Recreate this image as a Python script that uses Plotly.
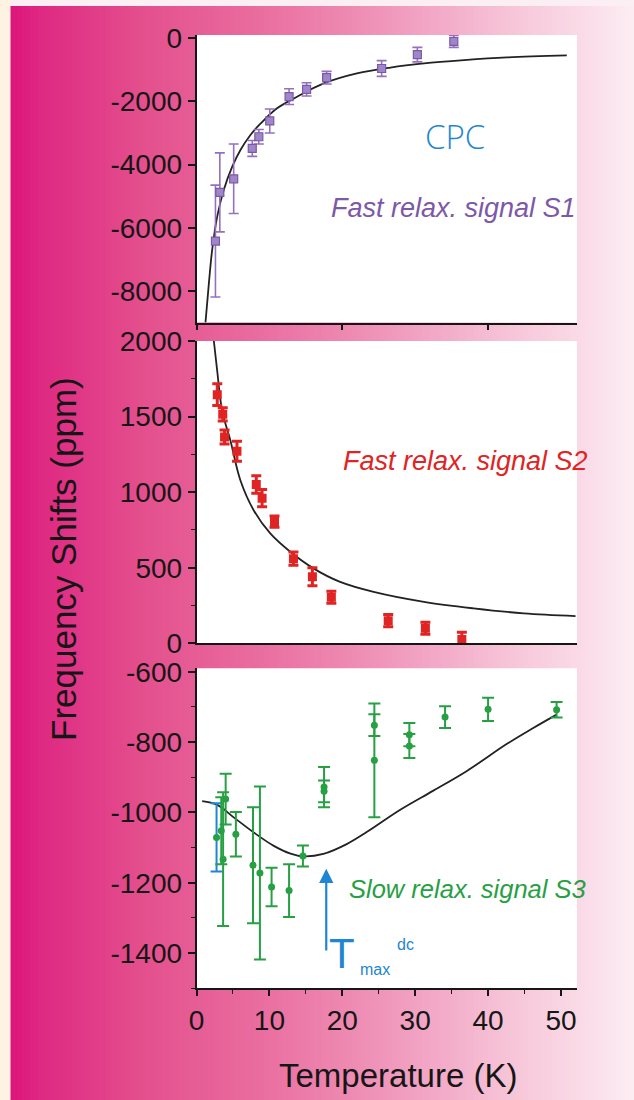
import plotly.graph_objects as go

# ---------------- data ----------------
# Panel 1: fast relaxation signal S1 (purple)
t_s1 = [2.6, 3.2, 5.1, 7.65, 8.55, 10.05, 12.7, 15.1, 17.85, 25.4, 30.3, 35.3]
v_s1 = [-6420, -4880, -4450, -3490, -3120, -2620, -1850, -1620, -1250, -960, -520, -100]
e_s1 = [1770, 1250, 1100, 250, 230, 380, 250, 210, 200, 250, 230, 190]
fit_t_s1 = [1.23, 1.7, 2.15, 2.84, 3.75, 4.9, 6.03, 7.4, 8.8, 11.05, 13.8, 17.45, 22.0, 26.6, 31.2, 36.7, 42.6, 50.8]
fit_v_s1 = [-9000, -7750, -6700, -5645, -4800, -4066, -3540, -3065, -2700, -2220, -1854, -1433, -1117, -930, -800, -695, -610, -547]

# Panel 2: fast relaxation signal S2 (red)
t_s2 = [2.85, 3.6, 3.85, 5.55, 8.2, 9.0, 10.7, 13.3, 15.9, 18.5, 26.3, 31.4, 36.4]
v_s2 = [1645, 1515, 1365, 1270, 1050, 960, 805, 560, 440, 305, 150, 100, 25]
e_s2 = [72, 44, 46, 66, 58, 57, 38, 44, 60, 40, 40, 40, 48]
fit_t_s2 = [2.38, 2.84, 3.52, 4.66, 6.03, 7.86, 10.15, 12.9, 16.1, 19.7, 24.3, 31.2, 38.0, 44.9, 52.0]
fit_v_s2 = [2000, 1802, 1538, 1340, 1077, 879, 725, 604, 494, 406, 340, 274, 231, 198, 180]

# Panel 3: slow relaxation signal S3 (green)
t_s3 = [3.4, 3.65, 4.0, 5.4, 7.75, 8.7, 10.3, 12.7, 14.6, 17.5, 17.5, 24.4, 24.4, 29.2, 29.2, 34.1, 40.0, 49.4]
v_s3 = [-1052, -1133, -962, -1062, -1150, -1172, -1212, -1222, -1124, -928, -940, -752, -852, -779, -811, -729, -707, -708]
e_s3 = [95, 190, 72, 63, 165, 246, 55, 75, 30, 57, 31, 31, 162, 33, 34, 31, 33, 22]
# point whose error bar is drawn in blue
t_s3_blue = [2.75]
v_s3_blue = [-1071]
e_s3_blue = [97]
fit_t_s3 = [0.78, 2.8, 5.1, 7.85, 10.6, 12.9, 14.7, 17.4, 20.6, 23.4, 27.9, 32.5, 37.1, 42.6, 46.2, 49.4]
fit_v_s3 = [-968, -978, -1014, -1057, -1095, -1117, -1125, -1118, -1090, -1055, -993, -938, -882, -805, -760, -722]

# T_max^dc arrow (temperature, tail value, head value)
tmax_t = 17.8
tmax_tail = -1397
tmax_head = -1160

# tick labels
y1_ticks = [0, -2000, -4000, -6000, -8000]
y1_text = ["0", "-2000", "-4000", "-6000", "-8000"]
y2_ticks = [0, 500, 1000, 1500, 2000]
y2_text = ["0", "500", "1000", "1500", "2000"]
y3_ticks = [-600, -800, -1000, -1200, -1400]
y3_text = ["-600", "-800", "-1000", "-1200", "-1400"]
x_ticks = [0, 10, 20, 30, 40, 50]
x_text = ["0", "10", "20", "30", "40", "50"]

# ---------------- layout geometry ----------------
W, H = 634, 1100


def px(x):
    return x / W


def py(y):
    return 1 - y / H


XDOM = [px(196.5), px(577)]
Y1DOM = [py(322.6), py(35)]
Y2DOM = [py(643.3), py(341)]
Y3DOM = [py(988.3), py(668.2)]

RED = "#E02424"
GREEN = "#27A043"
BLUE = "#1E86D2"
PURPLE_TXT = "#7D58A8"
INK = "#161616"
FONT = "Liberation Sans, Arial, sans-serif"
TICKFONT = dict(family=FONT, size=28, color=INK)

fig = go.Figure()

# Panel 1
fig.add_trace(go.Scatter(x=fit_t_s1, y=fit_v_s1, mode="lines", line=dict(color="#222", width=1.8, shape="spline"),
                         xaxis="x", yaxis="y", showlegend=False, hoverinfo="skip"))
fig.add_trace(go.Scatter(x=t_s1, y=v_s1, mode="markers",
                         marker=dict(symbol="square", size=8, color="#9F86C8", line=dict(color="#7A5AA5", width=1.2)),
                         error_y=dict(type="data", array=e_s1, color="#9570C0", thickness=1.6, width=5),
                         xaxis="x", yaxis="y", showlegend=False))

# Panel 2
fig.add_trace(go.Scatter(x=fit_t_s2, y=fit_v_s2, mode="lines", line=dict(color="#222", width=1.8, shape="spline"),
                         xaxis="x2", yaxis="y2", showlegend=False, hoverinfo="skip"))
fig.add_trace(go.Scatter(x=t_s2, y=v_s2, mode="markers",
                         marker=dict(symbol="square", size=9, color=RED),
                         error_y=dict(type="data", array=e_s2, color=RED, thickness=3, width=5),
                         xaxis="x2", yaxis="y2", showlegend=False))

# Panel 3
fig.add_trace(go.Scatter(x=fit_t_s3, y=fit_v_s3, mode="lines", line=dict(color="#222", width=1.8, shape="spline"),
                         xaxis="x3", yaxis="y3", showlegend=False, hoverinfo="skip"))
fig.add_trace(go.Scatter(x=t_s3_blue, y=v_s3_blue, mode="markers",
                         marker=dict(symbol="circle", size=7, color=GREEN),
                         error_y=dict(type="data", array=e_s3_blue, color=BLUE, thickness=2, width=6),
                         xaxis="x3", yaxis="y3", showlegend=False))
fig.add_trace(go.Scatter(x=t_s3, y=v_s3, mode="markers",
                         marker=dict(symbol="circle", size=7, color=GREEN),
                         error_y=dict(type="data", array=e_s3, color=GREEN, thickness=2, width=6),
                         xaxis="x3", yaxis="y3", showlegend=False))

# ---------------- background (gradient strips) ----------------
stops = [(0, (220, 14, 120)), (40, (222, 40, 130)), (150, (228, 82, 142)), (250, (233, 106, 158)),
         (350, (238, 138, 178)), (450, (243, 174, 202)), (520, (247, 200, 218)), (580, (250, 218, 230)),
         (634, (252, 238, 243))]


def grad(x):
    for (x0, c0), (x1, c1) in zip(stops[:-1], stops[1:]):
        if x0 <= x <= x1:
            f = (x - x0) / (x1 - x0)
            return "rgb(%d,%d,%d)" % tuple(round(a + (b - a) * f) for a, b in zip(c0, c1))
    return "rgb(252,238,243)"


shapes = []
step = 4
for x in range(10, W, step):
    shapes.append(dict(type="rect", xref="paper", yref="paper", x0=px(x), x1=px(min(x + step + 0.6, W)),
                       y0=0, y1=1, fillcolor=grad(x + step / 2), line=dict(width=0), layer="below"))
# cream strip on the left and pale strip on top
shapes.append(dict(type="rect", xref="paper", yref="paper", x0=0, x1=px(10.5), y0=0, y1=1,
                   fillcolor="#FEF3E3", line=dict(width=0), layer="below"))
shapes.append(dict(type="rect", xref="paper", yref="paper", x0=px(10), x1=1, y0=py(6), y1=1,
                   fillcolor="#FBEFF3", line=dict(width=0), layer="below"))
# white plot areas
for dom in (Y1DOM, Y2DOM, Y3DOM):
    shapes.append(dict(type="rect", xref="paper", yref="paper", x0=XDOM[0], x1=XDOM[1], y0=dom[0], y1=dom[1],
                       fillcolor="white", line=dict(width=0), layer="below"))


def yax(dom, rng, tv, tt, minor_vals):
    return dict(domain=dom, range=rng, tickmode="array", tickvals=tv, ticktext=tt, ticks="outside",
                ticklen=7, tickwidth=1.5, tickcolor=INK, showline=True, linecolor=INK, linewidth=1.6,
                showgrid=False, zeroline=False, tickfont=TICKFONT, fixedrange=True, automargin=False,
                minor=dict(tickmode="array", tickvals=minor_vals, ticks="outside", ticklen=4,
                           tickwidth=1.2, tickcolor=INK, showgrid=False))


def xax(anchor, show_labels, tv, minor_vals):
    return dict(domain=XDOM, range=[0, 52.2], anchor=anchor, tickmode="array", tickvals=tv,
                ticktext=[str(v) for v in tv], showticklabels=show_labels, ticks="outside", ticklen=6,
                tickwidth=1.5, tickcolor=INK, showline=True, linecolor=INK, linewidth=1.6, showgrid=False,
                zeroline=False, tickfont=TICKFONT, fixedrange=True, automargin=False,
                minor=dict(tickmode="array", tickvals=minor_vals, ticks="outside", ticklen=4,
                           tickwidth=1.2, tickcolor=INK, showgrid=False))


def label(text, x, y, size, color, family=FONT, angle=0, weight="normal"):
    return dict(text=text, xref="paper", yref="paper", x=px(x), y=py(y), xanchor="center", yanchor="middle",
                textangle=angle, showarrow=False, font=dict(family=family, size=size, color=color, weight=weight))


annotations = [
    label("Frequency Shifts (ppm)", 63, 559, 35, INK, angle=-90),
    label("Temperature (K)", 398, 1075, 33, INK),
    label("CPC", 455, 137, 33, BLUE, family="Open Sans, Lato, sans-serif", weight=300),
    label("<i>Fast relax. signal S1</i>", 453, 208, 27, PURPLE_TXT),
    label("<i>Fast relax. signal S2</i>", 465, 461, 27, RED),
    label("<i>Slow relax. signal S3</i>", 467, 889, 25.5, GREEN),
    dict(text="", x=tmax_t, y=tmax_head, ax=tmax_t, ay=tmax_tail, xref="x3", yref="y3", axref="x3", ayref="y3",
         showarrow=True, arrowhead=2, arrowsize=1.3, arrowwidth=2.2, arrowcolor=BLUE),
    label("T", 342, 953, 42, BLUE),
    label("max", 375, 969, 16, BLUE),
    label("dc", 405, 944, 16, BLUE),
]

fig.update_layout(
    template="none",
    width=W, height=H, margin=dict(l=0, r=0, t=0, b=0, pad=0, autoexpand=False), autosize=False,
    paper_bgcolor="rgb(236,120,168)", plot_bgcolor="rgba(0,0,0,0)",
    showlegend=False, shapes=shapes, annotations=annotations,
    xaxis=xax("y", False, [0, 20, 40], []),
    yaxis=yax(Y1DOM, [-9000, 100], y1_ticks, y1_text, []),
    xaxis2=xax("y2", False, [], []),
    yaxis2=yax(Y2DOM, [0, 2000], y2_ticks, y2_text, [250, 750, 1250, 1750]),
    xaxis3=xax("y3", True, x_ticks, [5, 15, 25, 35, 45]),
    yaxis3=yax(Y3DOM, [-1500, -590], y3_ticks, y3_text, [-700, -900, -1100, -1300, -1500]),
)

fig.write_html("out.html", config={"displayModeBar": False},
               post_script="document.body.style.margin='0px';")
